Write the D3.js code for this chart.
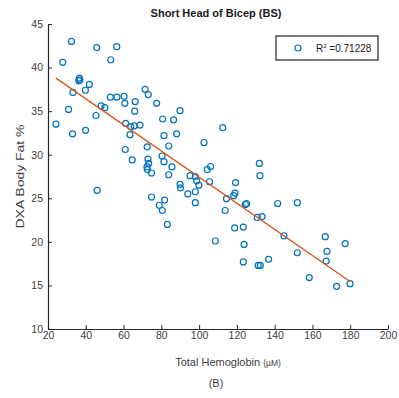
<!DOCTYPE html>
<html>
<head>
<meta charset="utf-8">
<script src="https://cdn.jsdelivr.net/npm/d3@7"></script>
<style>
  body { margin: 0; background: #fff; }
  svg { display: block; font-family: "Liberation Sans", Arial, sans-serif; }
</style>
</head>
<body>
<svg id="chart" width="399" height="398"></svg>
<script>
// Total hemoglobin (µM) for each subject
const hemoglobin = [
  24.2, 27.8, 32.4, 33.2, 30.9, 33.0, 36.6, 36.9, 36.3, 41.9,
  39.8, 39.9, 45.8, 45.4, 48.1, 50.1, 46.0, 53.2, 56.4, 53.0,
  56.5, 60.3, 60.7, 66.2, 65.9, 61.1, 63.8, 65.6, 68.7, 63.4,
  60.9, 64.6, 71.4, 73.1, 77.5, 80.7, 86.5, 89.9, 81.4, 88.1,
  72.5, 83.9, 72.9, 73.3, 72.4, 72.6, 74.8, 80.4, 81.4, 85.6,
  83.9, 89.9, 90.1, 94.0, 95.2, 98.0, 98.7, 99.9, 98.0, 98.0,
  112.5, 102.6, 104.3, 106.1, 105.5, 119.3, 119.0, 118.3, 114.5, 125.1,
  124.5, 131.9, 132.2, 74.8, 81.7, 78.9, 80.5, 113.8, 83.2, 130.8,
  133.3, 118.8, 123.4, 141.6, 152.0, 108.6, 123.8, 144.9, 166.8, 177.3,
  167.7, 152.0, 167.3, 123.4, 131.3, 132.4, 136.8, 158.3, 172.8, 179.9
];

// DXA body fat (%) for the same subjects
const bodyFat = [
  33.5, 40.6, 43.0, 37.15, 35.2, 32.4, 38.8, 38.6, 38.5, 38.07,
  37.4, 32.8, 42.3, 34.5, 35.6, 35.4, 25.9, 40.9, 42.4, 36.6,
  36.6, 36.7, 35.9, 36.1, 35.0, 33.6, 33.2, 33.3, 33.4, 32.3,
  30.6, 29.4, 37.5, 36.9, 35.9, 34.1, 34.0, 35.05, 32.2, 32.4,
  30.9, 31.0, 29.5, 29.0, 28.6, 28.3, 27.9, 29.85, 29.2, 28.6,
  27.7, 26.6, 26.2, 25.5, 27.6, 27.5, 27.0, 26.5, 25.75, 24.5,
  33.1, 31.4, 28.3, 28.65, 26.9, 26.8, 25.6, 25.3, 24.95, 24.4,
  24.3, 29.0, 27.6, 25.15, 24.8, 24.2, 23.6, 23.6, 22.0, 22.8,
  22.9, 21.6, 21.7, 24.4, 24.5, 20.1, 19.7, 20.7, 20.6, 19.8,
  18.9, 18.75, 17.8, 17.7, 17.3, 17.3, 18.0, 15.9, 14.9, 15.2
];

const xTicks = [20, 40, 60, 80, 100, 120, 140, 160, 180, 200];
const yTicks = [10, 15, 20, 25, 30, 35, 40, 45];
const xDomain = [20, 200];
const yDomain = [10, 45];

const titleText = "Short Head of Bicep (BS)";
const xLabelText = "Total Hemoglobin";
const xUnitText = "(\u00B5M)";
const yLabelText = "DXA Body Fat %";
const panelText = "(B)";
const rSquaredText = "0.71228";

const blue = "#0072BD";
const orange = "#D95319";
const axisColor = "#262626";
const textColor = "#404040";

const svg = d3.select("#chart");
const plot = { left: 48, right: 388, top: 24, bottom: 329 };

const x = d3.scaleLinear().domain(xDomain).range([plot.left, plot.right]);
const y = d3.scaleLinear().domain(yDomain).range([plot.bottom, plot.top]);

const points = d3.zip(hemoglobin, bodyFat);

// least-squares fit line through the points
const mx = d3.mean(hemoglobin), my = d3.mean(bodyFat);
const sxy = d3.sum(points, p => (p[0] - mx) * (p[1] - my));
const sxx = d3.sum(points, p => (p[0] - mx) ** 2);
const slope = sxy / sxx;
const intercept = my - slope * mx;
const [xMin, xMax] = d3.extent(hemoglobin);

// axes with inward ticks
const xAxis = d3.axisBottom(x).tickValues(xTicks).tickSizeInner(-4).tickSizeOuter(0).tickPadding(3);
const yAxis = d3.axisLeft(y).tickValues(yTicks).tickSizeInner(-4).tickSizeOuter(0).tickPadding(5);

const gx = svg.append("g").attr("transform", `translate(0,${plot.bottom})`).call(xAxis);
const gy = svg.append("g").attr("transform", `translate(${plot.left},0)`).call(yAxis);

[gx, gy].forEach(g => {
  g.select(".domain").attr("stroke", axisColor).attr("stroke-width", 1.2);
  g.selectAll(".tick line").attr("stroke", axisColor).attr("stroke-width", 1);
  g.selectAll(".tick text")
    .attr("fill", textColor)
    .style("font-family", "'Liberation Sans', Arial, sans-serif")
    .style("font-size", "10.5px");
});

// scatter markers
svg.append("g")
  .selectAll("circle")
  .data(points)
  .join("circle")
  .attr("cx", d => x(d[0]))
  .attr("cy", d => y(d[1]))
  .attr("r", 3)
  .attr("fill", "none")
  .attr("stroke", blue)
  .attr("stroke-width", 1.2);

// regression line
svg.append("line")
  .attr("x1", x(xMin)).attr("y1", y(slope * xMin + intercept))
  .attr("x2", x(xMax)).attr("y2", y(slope * xMax + intercept))
  .attr("stroke", orange)
  .attr("stroke-width", 1.3);

// title
svg.append("text")
  .attr("x", 216).attr("y", 17)
  .attr("text-anchor", "middle")
  .attr("fill", "#1a1a1a")
  .style("font-size", "11px")
  .style("font-weight", "bold")
  .text(titleText);

// y-axis label
svg.append("text")
  .attr("transform", `translate(24,${(plot.top + plot.bottom) / 2}) rotate(-90)`)
  .attr("text-anchor", "middle")
  .attr("fill", textColor)
  .attr("textLength", 104)
  .attr("lengthAdjust", "spacingAndGlyphs")
  .style("font-size", "11px")
  .text(yLabelText);

// x-axis label with smaller unit
const xl = svg.append("text")
  .attr("x", 228).attr("y", 366)
  .attr("text-anchor", "middle")
  .attr("fill", textColor)
  .style("font-size", "11px");
xl.append("tspan").text(xLabelText + " ");
xl.append("tspan").style("font-size", "8.5px").text(xUnitText);

// panel label
svg.append("text")
  .attr("x", 216).attr("y", 387)
  .attr("text-anchor", "middle")
  .attr("fill", textColor)
  .style("font-size", "11px")
  .text(panelText);

// legend
const lg = svg.append("g");
lg.append("rect")
  .attr("x", 276).attr("y", 36)
  .attr("width", 102).attr("height", 24)
  .attr("fill", "#fff")
  .attr("stroke", "#333")
  .attr("stroke-width", 1.3);
lg.append("circle")
  .attr("cx", 298).attr("cy", 48).attr("r", 3)
  .attr("fill", "none").attr("stroke", blue).attr("stroke-width", 1.2);
const lt = lg.append("text")
  .attr("x", 316).attr("y", 52)
  .attr("fill", "#1a1a1a")
  .style("font-size", "10px");
lt.append("tspan").text("R");
lt.append("tspan").attr("dy", -4).style("font-size", "6px").text("2");
lt.append("tspan").attr("dy", 4).text(" =" + rSquaredText);
</script>
</body>
</html>
